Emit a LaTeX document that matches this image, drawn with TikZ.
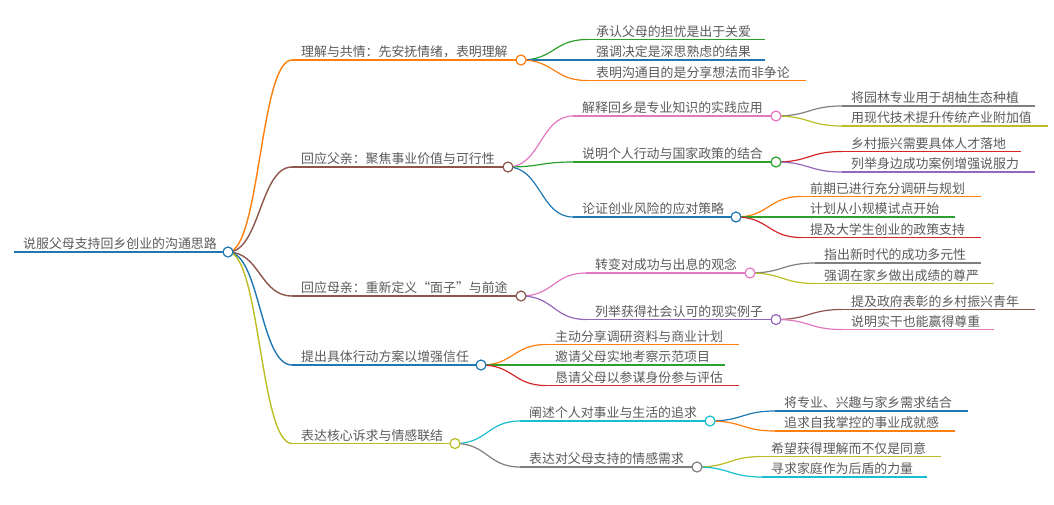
\documentclass[tikz,border=0pt]{standalone}
\usepackage{fontspec}
\newfontfamily\cjk{Noto Sans CJK SC}
\usetikzlibrary{calc}
\definecolor{cblue}{HTML}{1F77B4}
\definecolor{corange}{HTML}{FF7F0E}
\definecolor{cgreen}{HTML}{2CA02C}
\definecolor{cred}{HTML}{D62728}
\definecolor{cpurple}{HTML}{9467BD}
\definecolor{cbrown}{HTML}{8C564B}
\definecolor{cpink}{HTML}{E377C2}
\definecolor{cgray}{HTML}{7F7F7F}
\definecolor{colive}{HTML}{BCBD22}
\definecolor{ccyan}{HTML}{17BECF}
\definecolor{txtgray}{HTML}{5A5A5A}
\tikzset{
  lbl/.style={anchor=base west, inner sep=0pt, font=\cjk\fontsize{12.9}{14}\selectfont, text=txtgray},
  dot/.style={circle, draw, fill=white, minimum size=10pt, inner sep=0pt, line width=1.2pt},
  br/.style={line width=1.2pt},
}
% name, colour, start x, end x, y, text
\newcommand{\mmbranch}[6]{%
  \coordinate (#1s) at (#3,#5);
  \coordinate (#1e) at (#4,#5);
  \draw[br,#2] (#1s) -- (#1e);
  \node[lbl] (#1t) at ([xshift=9pt,yshift=3.5pt]#1s) {#6};
}
% colour, parent, child
\newcommand{\mmlink}[3]{%
  \path ($(#2e)!0.5!(#3s)$) coordinate (tmpm);
  \draw[br,#1] (#2e) .. controls (tmpm |- #2e) and (tmpm |- #3s) .. (#3s);
}
\newcommand{\mmdot}[2]{\node[dot,draw=#2] (#1d) at (#1e) {};}
\begin{document}
\begin{tikzpicture}[x=1pt,y=-1pt]
\useasboundingbox (0,0) rectangle (1054,504);
\begin{scope}[br/.style={line width=1.9pt}]
\mmbranch{root}{cblue}{14}{228}{252}{说服父母支持回乡创业的沟通思路}
\end{scope}
\begin{scope}[br/.style={line width=1.4pt}]
\mmbranch{na}{corange}{292}{521}{60}{理解与共情：先安抚情绪，表明理解}
\mmbranch{nb}{cbrown}{292}{508}{167}{回应父亲：聚焦事业价值与可行性}
\mmbranch{nc}{cbrown}{292}{521}{296}{回应母亲：重新定义“面子”与前途}
\mmbranch{nd}{cblue}{292}{481}{365}{提出具体行动方案以增强信任}
\mmbranch{ne}{colive}{292}{455}{443.5}{表达核心诉求与情感联结}
\mmlink{corange}{root}{na}
\mmlink{cbrown}{root}{nb}
\mmlink{cbrown}{root}{nc}
\mmlink{cblue}{root}{nd}
\mmlink{colive}{root}{ne}
\end{scope}
% level 2
\mmbranch{naa}{cgreen}{587}{765}{39.5}{承认父母的担忧是出于关爱}
\mmbranch{nab}{cblue}{587}{765}{60}{强调决定是深思熟虑的结果}
\mmbranch{nac}{corange}{587}{806}{80.5}{表明沟通目的是分享想法而非争论}
\mmbranch{nba}{cpink}{573}{776}{116}{解释回乡是专业知识的实践应用}
\mmbranch{nbb}{cgreen}{573}{776}{162}{说明个人行动与国家政策的结合}
\mmbranch{nbc}{cblue}{573}{736}{217}{论证创业风险的应对策略}
\mmbranch{nca}{cpink}{586}{750}{273}{转变对成功与出息的观念}
\mmbranch{ncb}{cpurple}{586}{776}{319.5}{列举获得社会认可的现实例子}
\mmbranch{nda}{corange}{546}{739}{344.5}{主动分享调研资料与商业计划}
\mmbranch{ndb}{cgreen}{546}{725}{365}{邀请父母实地考察示范项目}
\mmbranch{ndc}{cred}{546}{739}{385.5}{恳请父母以参谋身份参与评估}
\mmbranch{nea}{ccyan}{520}{710}{421}{阐述个人对事业与生活的追求}
\mmbranch{neb}{cgray}{520}{697}{467}{表达对父母支持的情感需求}
\mmlink{cgreen}{na}{naa}
\mmlink{cblue}{na}{nab}
\mmlink{corange}{na}{nac}
\mmlink{cpink}{nb}{nba}
\mmlink{cgreen}{nb}{nbb}
\mmlink{cblue}{nb}{nbc}
\mmlink{cpink}{nc}{nca}
\mmlink{cpurple}{nc}{ncb}
\mmlink{corange}{nd}{nda}
\mmlink{cgreen}{nd}{ndb}
\mmlink{cred}{nd}{ndc}
\mmlink{ccyan}{ne}{nea}
\mmlink{cgray}{ne}{neb}
% level 3
\mmbranch{nbaa}{cgray}{842}{1035}{106}{将园林专业用于胡柚生态种植}
\mmbranch{nbab}{colive}{842}{1048}{126}{用现代技术提升传统产业附加值}
\mmbranch{nbba}{cred}{842}{1021}{151.5}{乡村振兴需要具体人才落地}
\mmbranch{nbbb}{cpurple}{842}{1035}{172}{列举身边成功案例增强说服力}
\mmbranch{nbca}{corange}{801}{981}{196.5}{前期已进行充分调研与规划}
\mmbranch{nbcb}{cgreen}{801}{955}{217}{计划从小规模试点开始}
\mmbranch{nbcc}{cred}{801}{981}{237.5}{提及大学生创业的政策支持}
\mmbranch{ncaa}{cgray}{815}{981}{263}{指出新时代的成功多元性}
\mmbranch{ncab}{colive}{815}{994}{283.5}{强调在家乡做出成绩的尊严}
\mmbranch{ncba}{cbrown}{842}{1035}{309.5}{提及政府表彰的乡村振兴青年}
\mmbranch{ncbb}{cpink}{842}{994}{329.5}{说明实干也能赢得尊重}
\mmbranch{neaa}{cblue}{775}{968}{411}{将专业、兴趣与家乡需求结合}
\mmbranch{neab}{corange}{775}{955}{431}{追求自我掌控的事业成就感}
\mmbranch{neba}{colive}{762}{941}{456.5}{希望获得理解而不仅是同意}
\mmbranch{nebb}{ccyan}{762}{927}{477}{寻求家庭作为后盾的力量}
\mmlink{cgray}{nba}{nbaa}
\mmlink{colive}{nba}{nbab}
\mmlink{cred}{nbb}{nbba}
\mmlink{cpurple}{nbb}{nbbb}
\mmlink{corange}{nbc}{nbca}
\mmlink{cgreen}{nbc}{nbcb}
\mmlink{cred}{nbc}{nbcc}
\mmlink{cgray}{nca}{ncaa}
\mmlink{colive}{nca}{ncab}
\mmlink{cbrown}{ncb}{ncba}
\mmlink{cpink}{ncb}{ncbb}
\mmlink{cblue}{nea}{neaa}
\mmlink{corange}{nea}{neab}
\mmlink{colive}{neb}{neba}
\mmlink{ccyan}{neb}{nebb}
% circles
\mmdot{root}{cblue}
\mmdot{na}{corange}
\mmdot{nb}{cbrown}
\mmdot{nc}{cbrown}
\mmdot{nd}{cblue}
\mmdot{ne}{colive}
\mmdot{nba}{cpink}
\mmdot{nbb}{cgreen}
\mmdot{nbc}{cblue}
\mmdot{nca}{cpink}
\mmdot{ncb}{cpurple}
\mmdot{nea}{ccyan}
\mmdot{neb}{cgray}
\end{tikzpicture}
\end{document}
